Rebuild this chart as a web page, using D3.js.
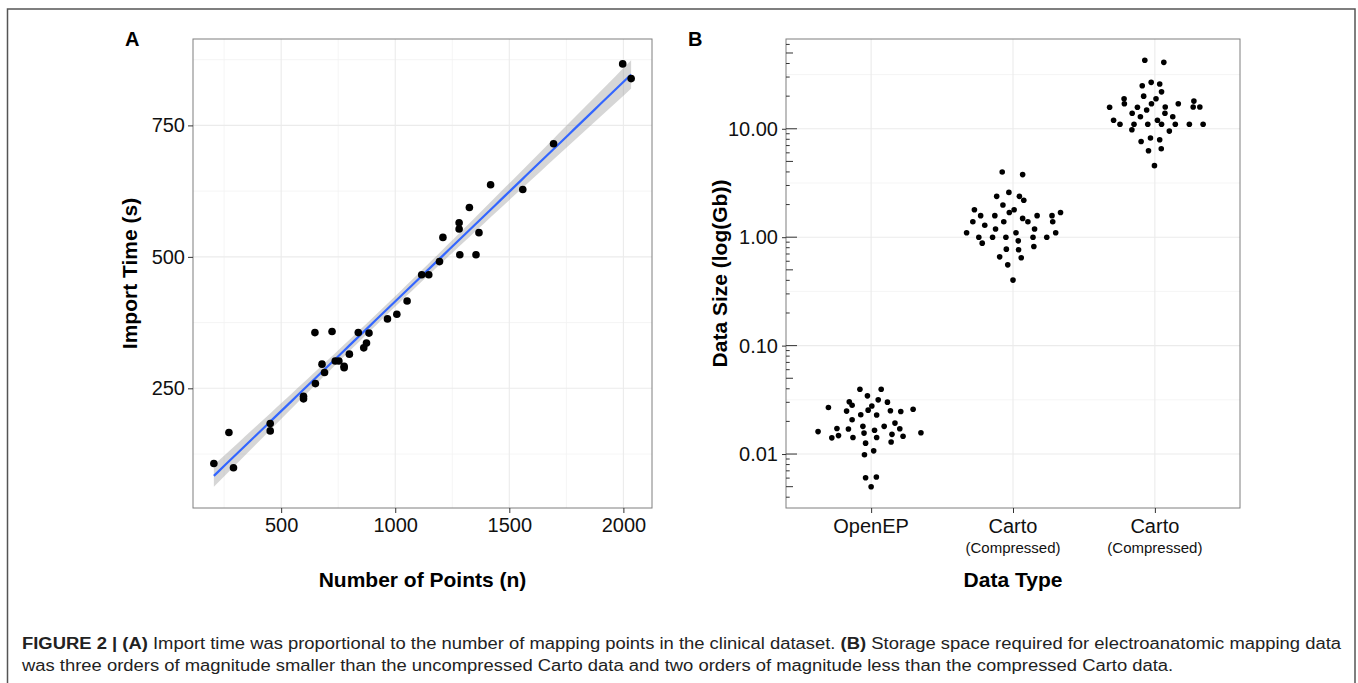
<!DOCTYPE html>
<html>
<head>
  <meta charset="UTF-8">
  <title>Figure 2</title>
  <script src="https://d3js.org/d3.v7.min.js"></script>
  <style>
    body { margin: 0; background: #fff; }
    svg { display: block; font-family: "Liberation Sans", Arial, sans-serif; }
  </style>
</head>
<body>
<svg></svg>
<script>
// ---- Panel A: import time vs number of mapping points ----
const nPoints = [1997, 2034, 1694, 1418, 1559, 1325, 1280, 1280, 1367, 1209, 1283, 1354, 1194,
  1116, 1147, 1052, 1007, 966, 648, 723, 838, 885, 874, 862, 799, 753, 737, 679, 776, 776,
  690, 650, 598, 598, 452, 452, 271, 205, 291];
const importTime = [867, 839, 715, 637, 628, 594, 565, 553, 546, 537, 504, 504, 491,
  466, 466, 416, 391, 382, 356, 358, 356, 355, 336, 327, 315, 302, 302, 296, 292, 289,
  280, 259, 235, 230, 183, 169, 166, 107, 99];
const xTicksA = [500, 1000, 1500, 2000];
const yTicksA = [250, 500, 750];

// ---- Panel B: data size per data type (log scale) ----
const dataTypes = ["OpenEP", "Carto", "Carto"];
const dataTypeNotes = ["", "(Compressed)", "(Compressed)"];
const openepSize = [0.0396, 0.0396, 0.0344, 0.0316, 0.0303, 0.0301, 0.0282, 0.0269, 0.0277, 0.0259,
  0.0249, 0.0254, 0.0251, 0.0247, 0.0230, 0.0229, 0.0207, 0.0193, 0.0172, 0.0170,
  0.0180, 0.0180, 0.0171, 0.0161, 0.0156, 0.0166, 0.0157, 0.0141, 0.0148, 0.0142,
  0.0142, 0.0152, 0.0146, 0.0126, 0.0129, 0.0107, 0.00986, 0.00605, 0.00614, 0.00500];
const openepJitter = [-0.079, 0.071, -0.026, 0.050, -0.154, 0.115, -0.134, -0.301, 0.005, 0.296,
  -0.173, -0.021, 0.136, 0.209, -0.073, 0.039, -0.134, 0.168, -0.241, -0.160,
  -0.058, 0.092, 0.202, -0.374, -0.050, 0.024, 0.351, -0.277, -0.230, -0.128,
  0.039, 0.147, 0.225, -0.039, 0.141, 0.018, -0.047, -0.039, 0.037, 0];
const cartoSize = [3.99, 3.78, 2.59, 2.38, 2.38, 2.19, 1.98, 1.79, 1.69, 1.79,
  1.69, 1.58, 1.58, 1.58, 1.58, 1.49, 1.39, 1.39, 1.39, 1.39,
  1.29, 1.19, 1.19, 1.10, 1.10, 1.10, 1.00, 1.00, 1.00, 1.00,
  1.00, 0.881, 0.925, 0.776, 0.765, 0.820, 0.659, 0.646, 0.556, 0.402];
const cartoJitter = [-0.076, 0.068, -0.029, -0.115, 0.045, 0.076, -0.071, 0.008, -0.026, -0.272,
  0.335, -0.228, -0.128, 0.170, 0.275, 0.068, -0.283, -0.065, 0.105, 0.280,
  -0.199, -0.123, 0.152, -0.327, 0.021, 0.301, -0.241, -0.144, -0.050, 0.141,
  0.238, -0.217, 0.037, -0.047, 0.039, 0.147, -0.094, 0.058, -0.037, 0];
const carto2Size = [42.8, 41.0, 26.8, 24.9, 25.9, 21.9, 20.0, 18.9, 18.9, 17.0,
  17.0, 17.0, 18.0, 15.8, 15.8, 14.9, 15.9, 15.9, 15.9, 13.9,
  13.9, 12.9, 12.9, 12.0, 12.0, 11.0, 11.0, 11.0, 11.0, 11.0,
  11.0, 11.0, 9.80, 9.52, 8.21, 7.64, 7.92, 6.28, 6.55, 4.57];
const carto2Jitter = [-0.071, 0.063, -0.026, -0.089, 0.034, 0.047, -0.079, -0.217, 0.008, -0.215,
  -0.024, 0.165, 0.275, -0.319, -0.123, -0.058, 0.073, 0.270, 0.317, -0.160,
  0.071, -0.102, 0.126, -0.291, 0.018, -0.246, -0.147, -0.050, 0.047, 0.144,
  0.243, 0.340, -0.162, 0.102, -0.031, -0.097, 0.034, -0.045, 0.045, -0.003];
const yTicksB = [0.01, 0.1, 1, 10];

const captionLine1 = [["FIGURE 2 | (A)", true], [" Import time was proportional to the number of mapping points in the clinical dataset. ", false],
  ["(B)", true], [" Storage space required for electroanatomic mapping data", false]];
const captionLine2 = "was three orders of magnitude smaller than the uncompressed Carto data and two orders of magnitude less than the compressed Carto data.";

const width = 1358, height = 683;
const svg = d3.select("svg").attr("width", width).attr("height", height);

// outer frame
svg.append("rect").attr("x", 7.5).attr("y", 9).attr("width", 1347.5).attr("height", 690)
  .attr("fill", "none").attr("stroke", "#555").attr("stroke-width", 1.5);

const gridMajor = "#ebebeb", gridMinor = "#f3f3f3";
const plotTop = 39, plotBottom = 508;
const tickFont = 20, titleFont = 21;

function expand(lo, hi) { const d = (hi - lo) * 0.05; return [lo - d, hi + d]; }

// ===== Panel A =====
const A = { left: 193, right: 652 };
const n = nPoints.length;
const xbar = d3.mean(nPoints), ybar = d3.mean(importTime);
let sxx = 0, sxy = 0;
for (let i = 0; i < n; i++) { sxx += (nPoints[i] - xbar) ** 2; sxy += (nPoints[i] - xbar) * (importTime[i] - ybar); }
const slope = sxy / sxx, icpt = ybar - slope * xbar;
let sse = 0;
for (let i = 0; i < n; i++) sse += (importTime[i] - (icpt + slope * nPoints[i])) ** 2;
const sRes = Math.sqrt(sse / (n - 2)), tCrit = 2.026;
const [xmin, xmax] = d3.extent(nPoints);
const fit = d3.range(0, 81).map(k => {
  const x = xmin + (xmax - xmin) * k / 80;
  const yhat = icpt + slope * x;
  const se = sRes * Math.sqrt(1 / n + (x - xbar) ** 2 / sxx);
  return { x, y: yhat, lo: yhat - tCrit * se, hi: yhat + tCrit * se };
});

const xA = d3.scaleLinear().domain(expand(xmin, xmax)).range([A.left, A.right]);
const yLo = Math.min(d3.min(importTime), d3.min(fit, d => d.lo));
const yHi = Math.max(d3.max(importTime), d3.max(fit, d => d.hi));
const yA = d3.scaleLinear().domain(expand(yLo, yHi)).range([plotBottom, plotTop]);

const gA = svg.append("g");
// minor grid
const xMinorA = [250, 750, 1250, 1750], yMinorA = [125, 375, 625, 875];
gA.selectAll(".vmin").data(xMinorA.filter(v => v > xA.domain()[0] && v < xA.domain()[1])).enter().append("line")
  .attr("x1", d => xA(d)).attr("x2", d => xA(d)).attr("y1", plotTop).attr("y2", plotBottom)
  .attr("stroke", gridMinor).attr("stroke-width", 0.8);
gA.selectAll(".hmin").data(yMinorA.filter(v => v > yA.domain()[0] && v < yA.domain()[1])).enter().append("line")
  .attr("y1", d => yA(d)).attr("y2", d => yA(d)).attr("x1", A.left).attr("x2", A.right)
  .attr("stroke", gridMinor).attr("stroke-width", 0.8);
gA.selectAll(".vmaj").data(xTicksA).enter().append("line")
  .attr("x1", d => xA(d)).attr("x2", d => xA(d)).attr("y1", plotTop).attr("y2", plotBottom)
  .attr("stroke", gridMajor).attr("stroke-width", 1.1);
gA.selectAll(".hmaj").data(yTicksA).enter().append("line")
  .attr("y1", d => yA(d)).attr("y2", d => yA(d)).attr("x1", A.left).attr("x2", A.right)
  .attr("stroke", gridMajor).attr("stroke-width", 1.1);

// confidence ribbon + fit line
gA.append("path").datum(fit)
  .attr("d", d3.area().x(d => xA(d.x)).y0(d => yA(d.lo)).y1(d => yA(d.hi)))
  .attr("fill", "#999").attr("fill-opacity", 0.4);
gA.append("path").datum(fit)
  .attr("d", d3.line().x(d => xA(d.x)).y(d => yA(d.y)))
  .attr("fill", "none").attr("stroke", "#3366ff").attr("stroke-width", 2.2);

// points
gA.selectAll("circle").data(nPoints).enter().append("circle")
  .attr("cx", d => xA(d)).attr("cy", (d, i) => yA(importTime[i])).attr("r", 3.8).attr("fill", "#000");

gA.append("rect").attr("x", A.left).attr("y", plotTop).attr("width", A.right - A.left).attr("height", plotBottom - plotTop)
  .attr("fill", "none").attr("stroke", "#7f7f7f").attr("stroke-width", 1);

const axA_x = gA.append("g").attr("transform", `translate(0,${plotBottom})`)
  .call(d3.axisBottom(xA).tickValues(xTicksA).tickFormat(d3.format("d")).tickSize(5).tickPadding(5));
const axA_y = gA.append("g").attr("transform", `translate(${A.left},0)`)
  .call(d3.axisLeft(yA).tickValues(yTicksA).tickSize(5).tickPadding(3));
[axA_x, axA_y].forEach(ax => {
  ax.attr("font-size", null).attr("font-family", null);
  ax.select(".domain").remove();
  ax.selectAll("line").attr("stroke", "#333");
  ax.selectAll("text").attr("font-size", tickFont).attr("fill", "#111");
});

gA.append("text").attr("x", (A.left + A.right) / 2).attr("y", 587).attr("text-anchor", "middle")
  .attr("font-size", titleFont).attr("font-weight", "bold").text("Number of Points (n)");
gA.append("text").attr("transform", `translate(137,${(plotTop + plotBottom) / 2}) rotate(-90)`).attr("text-anchor", "middle")
  .attr("font-size", titleFont).attr("font-weight", "bold").text("Import Time (s)");
gA.append("text").attr("x", 125).attr("y", 46).attr("font-size", 20).attr("font-weight", "bold").text("A");

// ===== Panel B =====
const B = { left: 786, right: 1240 };
const groups = [openepSize, cartoSize, carto2Size];
const jitters = [openepJitter, cartoJitter, carto2Jitter];
const pts = [];
groups.forEach((g, gi) => g.forEach((v, i) => pts.push({ c: gi + 1 + jitters[gi][i], v })));

const xB = d3.scaleLinear().domain([0.4, dataTypes.length + 0.6]).range([B.left, B.right]);
const logExt = expand(Math.log10(d3.min(pts, d => d.v)), Math.log10(d3.max(pts, d => d.v)));
const yB = d3.scaleLog().domain(logExt.map(e => 10 ** e)).range([plotBottom, plotTop]);

const gB = svg.append("g");
const yMinorB = [-2.5, -1.5, -0.5, 0.5, 1.5].map(e => 10 ** e).filter(v => v > yB.domain()[0] && v < yB.domain()[1]);
gB.selectAll(".hmin").data(yMinorB).enter().append("line")
  .attr("y1", d => yB(d)).attr("y2", d => yB(d)).attr("x1", B.left).attr("x2", B.right)
  .attr("stroke", gridMinor).attr("stroke-width", 0.8);
gB.selectAll(".hmaj").data(yTicksB).enter().append("line")
  .attr("y1", d => yB(d)).attr("y2", d => yB(d)).attr("x1", B.left).attr("x2", B.right)
  .attr("stroke", gridMajor).attr("stroke-width", 1.1);
gB.selectAll(".vmaj").data(dataTypes).enter().append("line")
  .attr("x1", (d, i) => xB(i + 1)).attr("x2", (d, i) => xB(i + 1)).attr("y1", plotTop).attr("y2", plotBottom)
  .attr("stroke", gridMajor).attr("stroke-width", 1.1);

gB.selectAll("circle").data(pts).enter().append("circle")
  .attr("cx", d => xB(d.c)).attr("cy", d => yB(d.v)).attr("r", 2.8).attr("fill", "#000");

gB.append("rect").attr("x", B.left).attr("y", plotTop).attr("width", B.right - B.left).attr("height", plotBottom - plotTop)
  .attr("fill", "none").attr("stroke", "#7f7f7f").attr("stroke-width", 1);

// log ticks inside left edge
const logTicks = [];
for (let e = -3; e <= 2; e++) for (let m = 1; m <= 9; m++) {
  const v = m * 10 ** e;
  if (v >= yB.domain()[0] && v <= yB.domain()[1]) logTicks.push({ v, m });
}
gB.selectAll(".lt").data(logTicks).enter().append("line")
  .attr("x1", B.left).attr("x2", d => B.left + (d.m === 1 ? 11 : d.m === 5 ? 7 : 3.7))
  .attr("y1", d => yB(d.v)).attr("y2", d => yB(d.v))
  .attr("stroke", "#333").attr("stroke-width", 1);

const axB_y = gB.append("g").attr("transform", `translate(${B.left},0)`)
  .call(d3.axisLeft(yB).tickValues(yTicksB).tickFormat(d3.format(".2f")).tickSize(4).tickPadding(4));
const axB_x = gB.append("g").attr("transform", `translate(0,${plotBottom})`)
  .call(d3.axisBottom(xB).tickValues(dataTypes.map((d, i) => i + 1)).tickFormat("").tickSize(5));
[axB_x, axB_y].forEach(ax => {
  ax.attr("font-size", null).attr("font-family", null);
  ax.select(".domain").remove();
  ax.selectAll("line").attr("stroke", "#333");
  ax.selectAll("text").attr("font-size", tickFont).attr("fill", "#111");
});

gB.selectAll(".cat").data(dataTypes).enter().append("text")
  .attr("x", (d, i) => xB(i + 1)).attr("y", 533).attr("text-anchor", "middle")
  .attr("font-size", tickFont).attr("fill", "#111").text(d => d);
gB.selectAll(".note").data(dataTypeNotes).enter().append("text")
  .attr("x", (d, i) => xB(i + 1)).attr("y", 553).attr("text-anchor", "middle")
  .attr("font-size", 15).attr("fill", "#111").text(d => d);

gB.append("text").attr("x", (B.left + B.right) / 2).attr("y", 587).attr("text-anchor", "middle")
  .attr("font-size", titleFont).attr("font-weight", "bold").text("Data Type");
gB.append("text").attr("transform", `translate(727,${(plotTop + plotBottom) / 2}) rotate(-90)`).attr("text-anchor", "middle")
  .attr("font-size", titleFont).attr("font-weight", "bold").text("Data Size (log(Gb))");
gB.append("text").attr("x", 688).attr("y", 46).attr("font-size", 20).attr("font-weight", "bold").text("B");

// ===== Caption =====
const cap1 = svg.append("text").attr("x", 22).attr("y", 649).attr("font-size", 16).attr("fill", "#222");
captionLine1.forEach(([t, b]) => cap1.append("tspan").attr("font-weight", b ? "bold" : "normal").text(t));
const cap2 = svg.append("text").attr("x", 22).attr("y", 671).attr("font-size", 16).attr("fill", "#222").text(captionLine2);
// squeeze both lines by the same factor so line 1 ends where the reference does
const squeeze = 1319 / cap1.node().getComputedTextLength();
cap1.attr("textLength", 1319).attr("lengthAdjust", "spacingAndGlyphs");
cap2.attr("textLength", cap2.node().getComputedTextLength() * squeeze).attr("lengthAdjust", "spacingAndGlyphs");
</script>
</body>
</html>
